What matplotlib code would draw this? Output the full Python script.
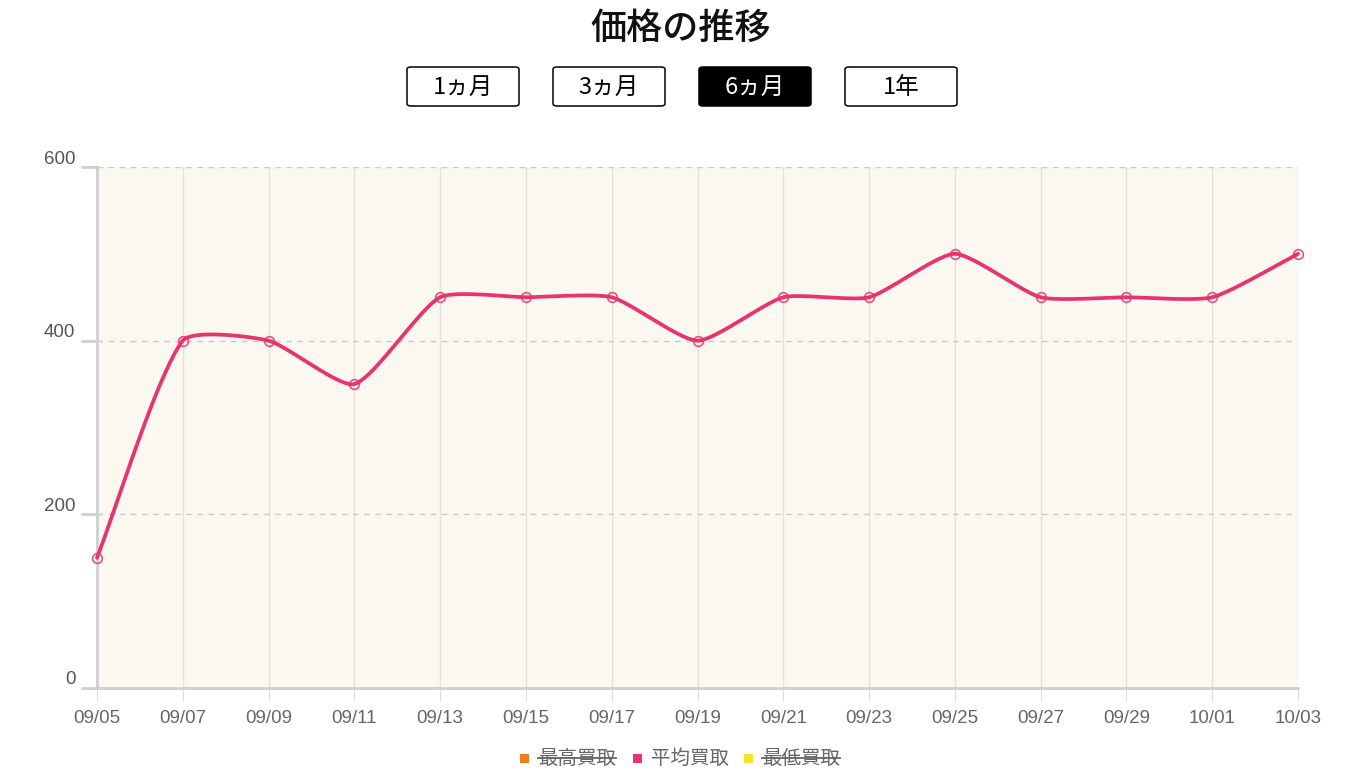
import numpy as np
import matplotlib
matplotlib.use('Agg')
import matplotlib.pyplot as plt
from matplotlib.patches import FancyBboxPatch, Rectangle
from matplotlib.transforms import ScaledTranslation, IdentityTransform
from matplotlib.lines import Line2D

# ---------------- data ----------------
dates = ['09/05', '09/07', '09/09', '09/11', '09/13', '09/15', '09/17', '09/19',
         '09/21', '09/23', '09/25', '09/27', '09/29', '10/01', '10/03']
avg_price = [150, 400, 400, 350, 450, 450, 450, 400, 450, 450, 500, 450, 450, 450, 500]
y_ticks = [0, 200, 400, 600]
title_text = '価格の推移'
button_labels = ['1ヵ月', '3ヵ月', '6ヵ月', '1年']
active_button = '6ヵ月'
legend_labels = ['最高買取', '平均買取', '最低買取']
legend_colors = ['#f07c1c', '#e8336e', '#f7e12e']
legend_hidden = [True, False, True]

CJK = ['Noto Sans CJK JP', 'DejaVu Sans']
NUM = ['Liberation Sans', 'DejaVu Sans']
LINE_COLOR = '#e8336e'

W, H = 1356, 778
fig = plt.figure(figsize=(W / 100, H / 100), dpi=100)
fig.patch.set_facecolor('white')

def fx(px):
    return px / W

def fy(py):
    return 1 - py / H

ax = fig.add_axes([fx(97), fy(688), fx(1298) - fx(97), fy(167) - fy(688)])
ax.set_facecolor('#fbf8f0')
x = np.arange(len(dates))
ax.set_xlim(0, len(dates) - 1)
ax.set_ylim(0, 600)

# grid
for xi in x:
    ax.axvline(xi, color='#e3e1da', lw=1.0, zorder=1)
for yv in y_ticks[1:]:
    ax.axhline(yv, color='#c9c9c9', lw=1.0, ls=(0, (4, 4)), zorder=1)

# spines
for s in ['top', 'right']:
    ax.spines[s].set_visible(False)
for s in ['left', 'bottom']:
    ax.spines[s].set_color('#cfcfcf')
    ax.spines[s].set_linewidth(2.0)

# ticks
ax.set_xticks(x)
ax.set_xticklabels(dates, fontfamily=NUM, fontsize=13.5, color='#666666')
ax.set_yticks(y_ticks)
ax.set_yticklabels([str(v) for v in y_ticks], fontfamily=NUM, fontsize=13.5, color='#555555')
ax.tick_params(axis='x', length=9, width=0.8, color='#dddddd', pad=7)
ax.tick_params(axis='y', length=11.5, width=2.0, color='#cfcfcf', pad=4)
off = ScaledTranslation(0, 10 / 72 * 0.72, fig.dpi_scale_trans)
for lab in ax.get_yticklabels():
    lab.set_transform(lab.get_transform() + off)

# Chart.js-like spline computed in pixel space
def chartjs_spline(xs, ys, t=0.2, samples=40):
    pts = ax.transData.transform(np.column_stack([xs, ys]).astype(float))
    n = len(pts)
    cp_prev = np.zeros_like(pts)
    cp_next = np.zeros_like(pts)
    for i in range(n):
        p = pts[max(i - 1, 0)]
        c = pts[i]
        nx = pts[min(i + 1, n - 1)]
        d01 = np.hypot(*(c - p))
        d12 = np.hypot(*(nx - c))
        tot = d01 + d12
        s01 = d01 / tot if tot else 0
        s12 = d12 / tot if tot else 0
        cp_prev[i] = c - t * s01 * (nx - p)
        cp_next[i] = c + t * s12 * (nx - p)
    bb = ax.bbox
    out = []
    tt = np.linspace(0, 1, samples)[:, None]
    for i in range(n - 1):
        P0, P1, P2, P3 = pts[i], cp_next[i], cp_prev[i + 1], pts[i + 1]
        P1 = np.array([P1[0], np.clip(P1[1], bb.y0, bb.y1)])
        P2 = np.array([P2[0], np.clip(P2[1], bb.y0, bb.y1)])
        seg = ((1 - tt) ** 3) * P0 + 3 * ((1 - tt) ** 2) * tt * P1 + 3 * (1 - tt) * tt ** 2 * P2 + tt ** 3 * P3
        out.append(seg if i == 0 else seg[1:])
    curve = np.vstack(out)
    return ax.transData.inverted().transform(curve)

curve = chartjs_spline(x, avg_price)
ax.plot(curve[:, 0], curve[:, 1], color=LINE_COLOR, lw=2.7, zorder=3,
        solid_capstyle='round', clip_on=False)
ax.plot(x, avg_price, ls='none', marker='o', ms=7, mfc='none', mec=LINE_COLOR,
        mew=1.2, alpha=0.85, zorder=4, clip_on=False)

# title
fig.text(fx(681), fy(29), title_text, ha='center', va='center', fontfamily=CJK,
         fontsize=26, fontweight='medium', color='#111111')

# buttons
btn_left = [407, 553, 699, 845]
for lbl, bx in zip(button_labels, btn_left):
    active = lbl == active_button
    rect = FancyBboxPatch((fx(bx), fy(106)), fx(112), fy(67) - fy(106),
                          boxstyle='round,pad=0,rounding_size=0.003',
                          transform=fig.transFigure, facecolor='black' if active else 'white',
                          edgecolor='black', lw=1.1)
    fig.add_artist(rect)
    fig.text(fx(bx + 56), fy(87), lbl, ha='center', va='center', fontfamily=CJK,
             fontsize=17, color='white' if active else 'black')

# legend
leg_sq_x = [520, 633, 744]
texts = []
for lbl, col, sx, hidden in zip(legend_labels, legend_colors, leg_sq_x, legend_hidden):
    fig.add_artist(Rectangle((fx(sx), fy(763)), fx(9), fy(754) - fy(763),
                             transform=fig.transFigure, facecolor=col, edgecolor='none'))
    t = fig.text(fx(sx + 18), fy(758), lbl, ha='left', va='center', fontfamily=CJK,
                 fontsize=14, color='#666666')
    texts.append((t, hidden))

fig.canvas.draw()
r = fig.canvas.get_renderer()
for t, hidden in texts:
    if hidden:
        bb = t.get_window_extent(r)
        ymid = (bb.y0 + bb.y1) / 2
        fig.add_artist(Line2D([bb.x0, bb.x1], [ymid, ymid], transform=IdentityTransform(),
                              color='#666666', lw=1.3))

fig.savefig('out.png', dpi=100)
